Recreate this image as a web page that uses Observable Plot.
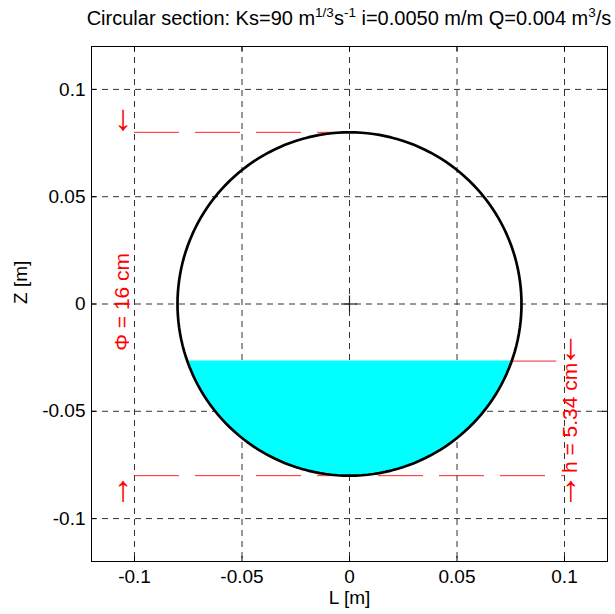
<!DOCTYPE html>
<html>
<head>
<meta charset="utf-8">
<script src="https://cdn.jsdelivr.net/npm/d3@7"></script>
<script src="https://cdn.jsdelivr.net/npm/@observablehq/plot@0.6"></script>
<style>
  body { margin: 0; background: #fff; }
  #wrap { position: relative; width: 615px; height: 614px; }
  #title { position: absolute; left: 0; width: 615px; top: 7px; height: 30px;
           font-family: "Liberation Sans", Arial, sans-serif; font-size: 20px; color: #000; white-space: nowrap; }
  #title span.t { position: absolute; left: 349px; transform: translateX(-50%); }
  sup { font-size: 13.5px; vertical-align: 8px; line-height: 0; }
</style>
</head>
<body>
<div id="wrap">
  <div id="title"><span class="t">Circular section: Ks=90 m<sup>1/3</sup>s<sup>-1</sup> i=0.0050 m/m Q=0.004 m<sup>3</sup>/s</span></div>
  <div id="chart"></div>
</div>
<script>
// ---- data ----
const xTicks = [-0.1, -0.05, 0, 0.05, 0.1];
const yTicks = [-0.1, -0.05, 0, 0.05, 0.1];
const xDomain = [-0.12, 0.12];
const yDomain = [-0.12, 0.12];
const diameter = 0.16;        // m
const waterDepth = 0.0534;    // m
const dimX = 0.1;             // x of dimension lines
const phiLabel = "\u03A6 = 16 cm";
const hLabel = "h = 5.34 cm";

// ---- geometry derived from data ----
const R = diameter / 2;
const level = -R + waterDepth;
const halfChord = Math.sqrt(R * R - level * level);
const circle = d3.range(0, 361, 2).map(a => ({x: R * Math.cos(a * Math.PI / 180), y: R * Math.sin(a * Math.PI / 180)}));
const water = d3.range(0, 101).map(i => {
  const x = -halfChord + (2 * halfChord) * i / 100;
  return {x, y1: -Math.sqrt(Math.max(0, R * R - x * x)), y2: level};
});
const pxX = 1 / 2150, pxY = 1 / 2145;   // one pixel in data units
const fmt = d => String(d);
const red = "#ff0000";

const chart = Plot.plot({
  width: 615, height: 614,
  marginLeft: 91, marginRight: 8, marginTop: 46, marginBottom: 53,
  style: {fontFamily: "'Liberation Sans', Arial, sans-serif", fontSize: "19px", color: "#000", background: "#fff"},
  x: {domain: xDomain, label: null},
  y: {domain: yDomain, label: null},
  marks: [
    // grid
    Plot.ruleX(xTicks, {stroke: "#333", strokeWidth: 1, strokeDasharray: "6,5"}),
    Plot.ruleY(yTicks, {stroke: "#333", strokeWidth: 1, strokeDasharray: "6,5"}),
    // water
    Plot.areaY(water, {x: "x", y1: "y1", y2: "y2", fill: "#00ffff", curve: "linear"}),
    // dimension lines
    Plot.ruleY([R], {x1: -dimX, x2: 0, stroke: red, strokeOpacity: 0.85, strokeDasharray: "45,16"}),
    Plot.ruleY([-R], {x1: -dimX, x2: dimX, stroke: red, strokeOpacity: 0.85, strokeDasharray: "45,16"}),
    Plot.ruleY([level], {x1: halfChord, x2: dimX, stroke: red, strokeOpacity: 0.85, strokeDasharray: "45,16"}),
    // circle
    Plot.line(circle, {x: "x", y: "y", stroke: "#000", strokeWidth: 2.7}),
    // centre cross
    Plot.ruleX([0], {y1: -8 * pxY, y2: 8 * pxY, stroke: "#222", strokeWidth: 1.2}),
    Plot.ruleY([0], {x1: -8 * pxX, x2: 8 * pxX, stroke: "#222", strokeWidth: 1.2}),
    // arrows and dimension labels
    Plot.text([{x: -0.1052, y: R + 0.0065}], {x: "x", y: "y", text: () => "\u2193", fill: red, fontSize: 36}),
    Plot.text([{x: -0.1052, y: -R - 0.0065}], {x: "x", y: "y", text: () => "\u2191", fill: red, fontSize: 36}),
    Plot.text([{x: -0.1058, y: 0.001}], {x: "x", y: "y", text: () => phiLabel, fill: red, fontSize: 21, rotate: -90}),
    Plot.text([{x: 0.1030, y: level + 0.0065}], {x: "x", y: "y", text: () => "\u2193", fill: red, fontSize: 36}),
    Plot.text([{x: 0.1028, y: -0.0531}], {x: "x", y: "y", text: () => hLabel, fill: red, fontSize: 21, rotate: -90}),
    Plot.text([{x: 0.1030, y: -R - 0.0065}], {x: "x", y: "y", text: () => "\u2191", fill: red, fontSize: 36}),
    // frame
    Plot.frame({stroke: "#000", strokeWidth: 1}),
    // inner ticks on all sides
    Plot.ruleX(xTicks, {y1: yDomain[0], y2: yDomain[0] + 5 * pxY, stroke: "#000"}),
    Plot.ruleX(xTicks, {y1: yDomain[1] - 5 * pxY, y2: yDomain[1], stroke: "#000"}),
    Plot.ruleY(yTicks, {x1: xDomain[0], x2: xDomain[0] + 5 * pxX, stroke: "#000"}),
    Plot.ruleY(yTicks, {x1: xDomain[1] - 5 * pxX, x2: xDomain[1], stroke: "#000"}),
    // axes
    Plot.axisX(xTicks, {tickSize: 0, tickPadding: 8, tickFormat: fmt, label: null}),
    Plot.axisY(yTicks, {tickSize: 0, tickPadding: 6, tickFormat: fmt, label: null}),
    Plot.text(["L [m]"], {frameAnchor: "bottom", dy: 42, text: d => d, fontSize: 19}),
    Plot.text(["Z [m]"], {frameAnchor: "left", dx: -71, text: d => d, rotate: -90, fontSize: 19})
  ]
});
document.getElementById("chart").appendChild(chart);
</script>
</body>
</html>
